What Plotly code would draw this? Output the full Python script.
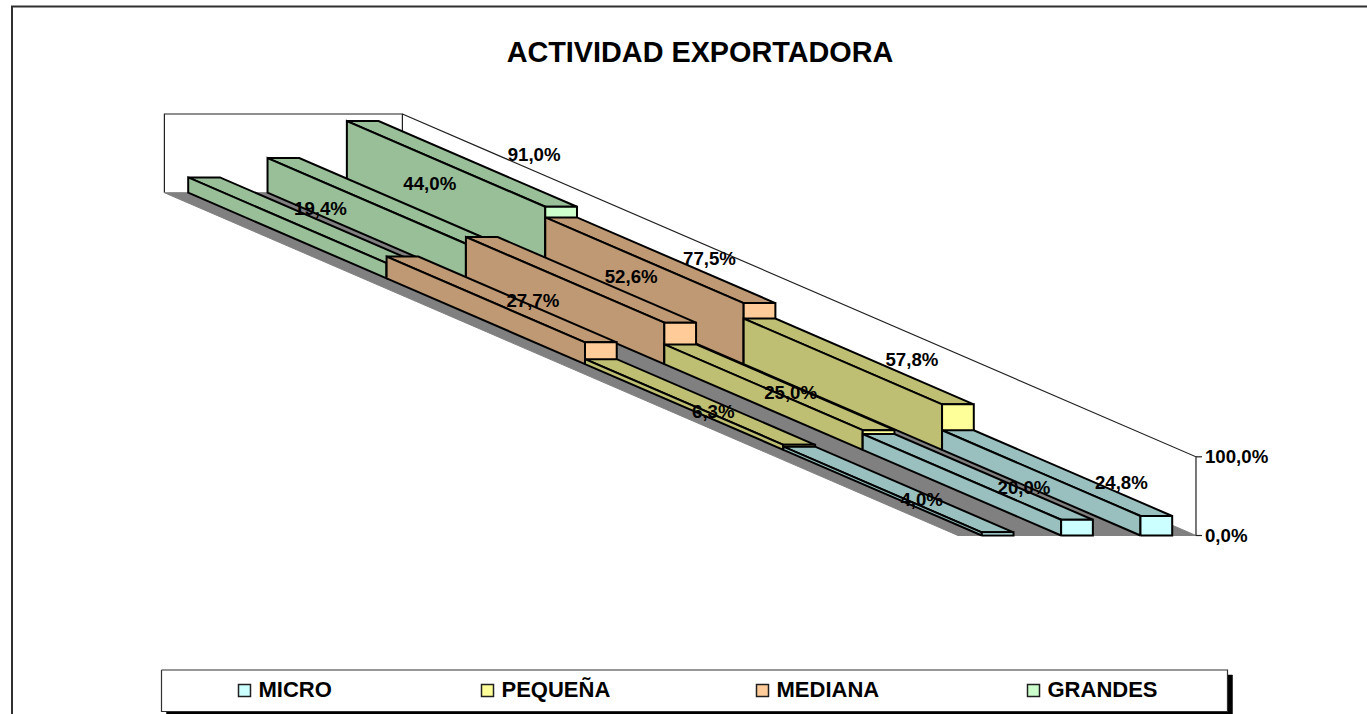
import plotly.graph_objects as go

TITLE = "ACTIVIDAD EXPORTADORA"
SERIES = ["MICRO", "PEQUEÑA", "MEDIANA", "GRANDES"]
MICRO = [4.0, 20.0, 24.8]
PEQUENA = [6.3, 25.0, 57.8]
MEDIANA = [27.7, 52.6, 77.5]
GRANDES = [19.4, 44.0, 91.0]
VALUES = [MICRO, PEQUENA, MEDIANA, GRANDES]
TICKS = [0.0, 100.0]

# styles
FRONT = ["#CCFFFF", "#FFFF99", "#FFCC99", "#CCFFCC"]
SIDE = ["#99BFBF", "#BFBF73", "#BF9973", "#99BF99"]
FLOOR = "#808080"
FONT = "Liberation Sans, Arial, sans-serif"

# oblique projection of the 3D box on the page
ORIGIN_X, ORIGIN_Y = 958.0, 535.5   # front-left floor corner
GROUP_W = 79.33                     # width of one category
DEPTH_X, DEPTH_Y = -198.4, -85.7    # one series step in depth
UNIT_H = 0.787                      # page units per percentage point
BAR_W = 0.40                        # bar width as a fraction of the category


def project(g, d, v):
    """g: category position, d: series position in depth, v: percent."""
    return (ORIGIN_X + g * GROUP_W + d * DEPTH_X,
            ORIGIN_Y + d * DEPTH_Y - v * UNIT_H)


# label nudges from the top-front-centre of each bar, same shape as VALUES
LABEL_DX = [[-76, -53, -35], [-86, -88, -46], [-68, -49, -50], [-82, -52, -27]]
LABEL_DY = [[-31, -30, -32], [-31, -36, -43], [-40, -44, -43], [-53, -58, -50]]

fig = go.Figure()


def poly(points, fill=None, width=2, color="#000000", name=""):
    xs = [p[0] for p in points]
    ys = [p[1] for p in points]
    kw = dict(fill="toself", fillcolor=fill) if fill else {}
    fig.add_trace(go.Scatter(x=xs, y=ys, mode="lines", name=name,
                             line=dict(color=color, width=width),
                             hoverinfo="skip", showlegend=False, **kw))


nG, nD = 3, 4
# chart frame (open on the right and bottom, as cropped)
poly([(12, 714), (12, 6.5), (1367, 6.5)], width=2, color="#303030")

# back wall
poly([project(0, nD, 0), project(0, nD, 100), project(nG, nD, 100), project(nG, nD, 0)],
     fill="#FFFFFF", width=1.2, color="#202020", name="wall")
# floor
poly([project(0, nD, 0), project(nG, nD, 0), project(nG, 0, 0), project(0, 0, 0), project(0, nD, 0)],
     fill=FLOOR, width=1, color=FLOOR, name="floor")
# right wall edges
poly([project(nG, nD, 100), project(nG, 0, 100), project(nG, 0, 0)], width=1.2, color="#202020")
# value axis ticks
for t in TICKS:
    poly([project(nG, 0, t), (project(nG, 0, t)[0] + 6, project(nG, 0, t)[1])],
         width=1.2, color="#202020")

# bars: back row first, each row from right to left
pad = (1 - BAR_W) / 2
for d in range(nD - 1, -1, -1):
    for g in range(nG - 1, -1, -1):
        v = VALUES[d][g]
        l, r = g + pad, g + pad + BAR_W
        # top face
        poly([project(l, d, v), project(r, d, v), project(r, d + 1, v), project(l, d + 1, v), project(l, d, v)],
             fill=SIDE[d], name=SERIES[d])
        # left side face
        poly([project(l, d, 0), project(l, d, v), project(l, d + 1, v), project(l, d + 1, 0), project(l, d, 0)],
             fill=SIDE[d], name=SERIES[d])
        # front face
        poly([project(l, d, 0), project(r, d, 0), project(r, d, v), project(l, d, v), project(l, d, 0)],
             fill=FRONT[d], name=SERIES[d])

# data labels
lx, ly, lt = [], [], []
for d in range(nD):
    for g in range(nG):
        v = VALUES[d][g]
        px, py = project(g + 0.5, d, v)
        lx.append(px + LABEL_DX[d][g])
        ly.append(py + LABEL_DY[d][g])
        lt.append(f"{v:.1f}%".replace(".", ","))
fig.add_trace(go.Scatter(x=lx, y=ly, text=lt, mode="text", textposition="middle center",
                         textfont=dict(family=FONT, size=18.67, color="#000000", weight="bold"),
                         hoverinfo="skip", showlegend=False))

# value axis labels
tx = [project(nG, 0, t)[0] + 9 for t in TICKS]
ty = [project(nG, 0, t)[1] + 2 for t in TICKS]
fig.add_trace(go.Scatter(x=tx, y=ty, text=[f"{t:.1f}%".replace(".", ",") for t in TICKS],
                         mode="text", textposition="middle right",
                         textfont=dict(family=FONT, size=18.67, color="#000000", weight="bold"),
                         hoverinfo="skip", showlegend=False))

# legend box with its drop shadow
LEG_L, LEG_R, LEG_T, LEG_B = 161.5, 1227.5, 670, 711.5
poly([(LEG_L + 5, LEG_T + 5), (LEG_R + 5, LEG_T + 5), (LEG_R + 5, LEG_B + 5), (LEG_L + 5, LEG_B + 5), (LEG_L + 5, LEG_T + 5)],
     fill="#000000", width=0.5, name="legend shadow")
poly([(LEG_L, LEG_T), (LEG_R, LEG_T), (LEG_R, LEG_B), (LEG_L, LEG_B), (LEG_L, LEG_T)],
     fill="#FFFFFF", width=1.2, color="#303030", name="legend")
LEG_KEY_X = [244.5, 487.5, 762.5, 1033.5]
LEG_Y = 690.5
fig.add_trace(go.Scatter(x=LEG_KEY_X, y=[LEG_Y] * 4, mode="markers",
                         marker=dict(symbol="square", size=12, color=FRONT,
                                     line=dict(color="#202020", width=1.5)),
                         hoverinfo="skip", showlegend=False))
fig.add_trace(go.Scatter(x=[k + 14 for k in LEG_KEY_X], y=[LEG_Y + 1] * 4, text=SERIES,
                         mode="text", textposition="middle right",
                         textfont=dict(family=FONT, size=22, color="#000000", weight="bold"),
                         hoverinfo="skip", showlegend=False))

fig.update_layout(
    width=1367, height=714,
    margin=dict(l=0, r=0, t=0, b=0),
    paper_bgcolor="#FFFFFF", plot_bgcolor="#FFFFFF",
    showlegend=False,
    title=dict(text=f"<b>{TITLE}</b>", x=700 / 1367, y=1 - 52 / 714,
               xanchor="center", yanchor="middle",
               font=dict(family=FONT, size=28.8, color="#000000")),
    xaxis=dict(range=[0, 1367], visible=False, fixedrange=True),
    yaxis=dict(range=[714, 0], visible=False, fixedrange=True),
)
fig.write_html("out.html", config=dict(displayModeBar=False),
               post_script="document.body.style.margin='0';document.body.style.overflow='hidden';")
